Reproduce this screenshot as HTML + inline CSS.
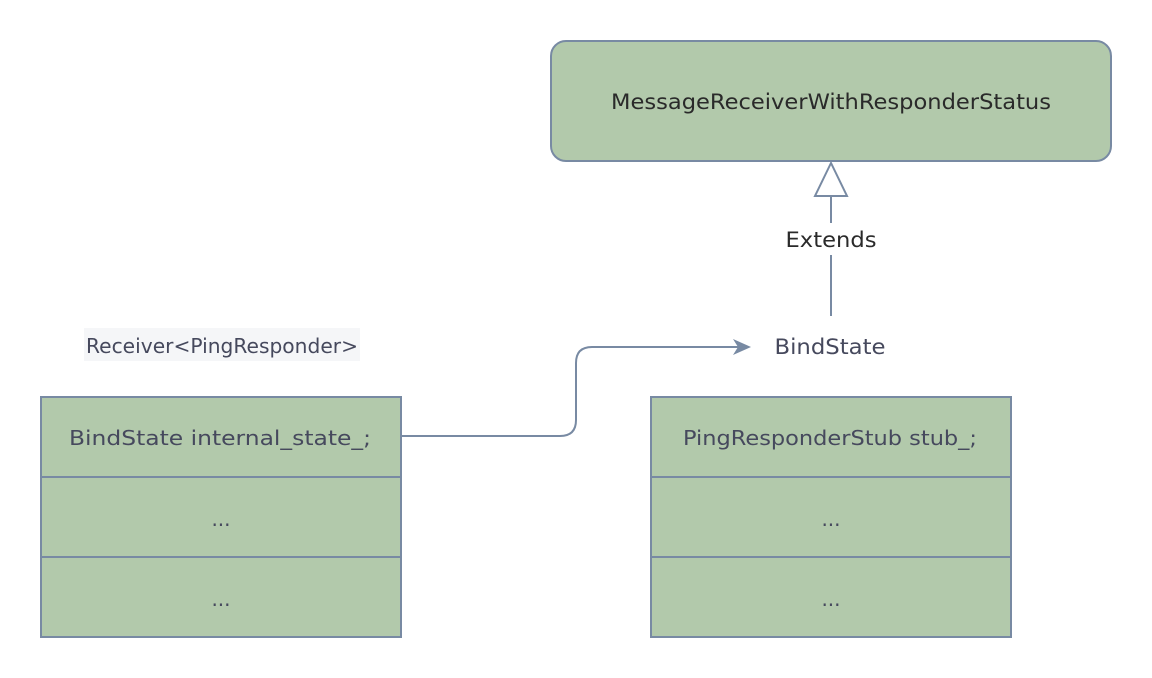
<!DOCTYPE html>
<html><head><meta charset="utf-8"><style>
html,body{margin:0;padding:0;background:#fff;}
svg{display:block;}
text{font-family:"DejaVu Sans","Liberation Sans",sans-serif;}
</style></head><body>
<svg width="1152" height="678" viewBox="0 0 1152 678" xmlns="http://www.w3.org/2000/svg">
<rect x="551" y="41" width="560" height="120" rx="15" fill="#b2c9ab" stroke="#788aa3" stroke-width="2"/>
<text x="831" y="109" font-size="21" fill="#2a2a2a" text-anchor="middle" textLength="440" lengthAdjust="spacingAndGlyphs">MessageReceiverWithResponderStatus</text>
<polygon points="831,163 815,196 847,196" fill="#fff" stroke="#788aa3" stroke-width="2"/>
<line x1="831" y1="196" x2="831" y2="223" stroke="#788aa3" stroke-width="2"/>
<line x1="831" y1="255" x2="831" y2="316" stroke="#788aa3" stroke-width="2"/>
<text x="831" y="247" font-size="21" fill="#2a2a2a" text-anchor="middle" textLength="91" lengthAdjust="spacingAndGlyphs">Extends</text>
<text x="830" y="354" font-size="21" fill="#46495d" text-anchor="middle" textLength="111" lengthAdjust="spacingAndGlyphs">BindState</text>
<path d="M401 436 H560 Q576 436 576 420 V363 Q576 347 592 347 H738" fill="none" stroke="#788aa3" stroke-width="2"/>
<polygon points="751,347 733,339 738,347 733,355" fill="#788aa3"/>
<rect x="84" y="328" width="276" height="33" fill="#f5f6f8"/>
<text x="222" y="353" font-size="20" fill="#46495d" text-anchor="middle" textLength="272" lengthAdjust="spacingAndGlyphs">Receiver&lt;PingResponder&gt;</text>
<g stroke="#788aa3" stroke-width="2" fill="#b2c9ab">
<rect x="41" y="397" width="360" height="240"/>
<line x1="41" y1="477" x2="401" y2="477"/><line x1="41" y1="557" x2="401" y2="557"/>
<rect x="651" y="397" width="360" height="240"/>
<line x1="651" y1="477" x2="1011" y2="477"/><line x1="651" y1="557" x2="1011" y2="557"/>
</g>
<g font-size="20" fill="#46495d" text-anchor="middle">
<text x="220" y="445" textLength="302" lengthAdjust="spacingAndGlyphs">BindState internal_state_;</text>
<text x="221" y="526">...</text>
<text x="221" y="606">...</text>
<text x="830" y="445" textLength="294" lengthAdjust="spacingAndGlyphs">PingResponderStub stub_;</text>
<text x="831" y="526">...</text>
<text x="831" y="606">...</text>
</g>
</svg>
</body></html>
